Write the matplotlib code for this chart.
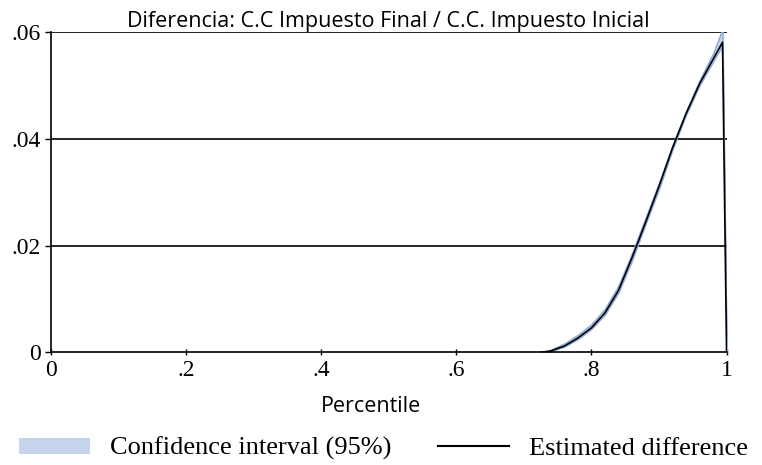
import matplotlib
matplotlib.use("Agg")
import matplotlib.pyplot as plt
from matplotlib.patches import Patch
from matplotlib.lines import Line2D

# Percentile grid and values
pctl = [0.725, 0.74, 0.76, 0.78, 0.80, 0.82, 0.84, 0.86, 0.88, 0.90,
        0.92, 0.94, 0.96, 0.98, 0.994, 1.0]
est_diff = [0.0, 0.0003, 0.0012, 0.0027, 0.0046, 0.0074, 0.0116, 0.0177, 0.0243, 0.0311,
            0.0383, 0.0447, 0.0503, 0.0549, 0.0581, 0.0]
ci_hi = [0.0, 0.0005, 0.0017, 0.0033, 0.0053, 0.0082, 0.0125, 0.0186, 0.0252, 0.0318,
         0.0388, 0.0452, 0.0510, 0.0560, 0.0606, 0.0]
ci_lo = [0.0, 0.0002, 0.0011, 0.0025, 0.0044, 0.0071, 0.0112, 0.0172, 0.0240, 0.0306,
         0.0380, 0.0445, 0.0500, 0.0545, 0.0575, 0.0]

x_ticks = [0, 0.2, 0.4, 0.6, 0.8, 1.0]
x_labels = ["0", ".2", ".4", ".6", ".8", "1"]
y_ticks = [0, 0.02, 0.04, 0.06]
y_labels = ["0", ".02", ".04", ".06"]

title = "Diferencia: C.C Impuesto Final / C.C. Impuesto Inicial"
sans = ["Open Sans", "DejaVu Sans"]
serif = ["Liberation Serif", "DejaVu Serif"]

band_face = "#c5d3eb"
band_edge = "#8ca8d8"

fig = plt.figure(figsize=(7.62, 4.65), dpi=100)
ax = fig.add_axes([0.0665, 0.242, 0.887, 0.689])

ax.fill_between(pctl, ci_lo, ci_hi, facecolor=band_face, edgecolor=band_edge, linewidth=1.0, zorder=2)
ax.plot(pctl, est_diff, color="black", linewidth=1.2, zorder=3)

ax.set_xlim(0, 1.0)
ax.set_ylim(0, 0.06)

# gridlines
for yv in y_ticks[1:]:
    ax.axhline(yv, color="black", linewidth=1.2, zorder=1)

ax.set_xticks(x_ticks)
ax.set_xticklabels(x_labels, family=serif, fontsize=17)
ax.set_yticks(y_ticks)
ax.set_yticklabels(y_labels, family=serif, fontsize=17)
ax.tick_params(axis="x", direction="inout", length=5, width=1, pad=3)
ax.tick_params(axis="y", direction="out", length=4, width=1, pad=3)

for s in ["top", "right"]:
    ax.spines[s].set_visible(False)
for s in ["left", "bottom"]:
    ax.spines[s].set_linewidth(1.2)

ax.set_title(title, family=sans, fontsize=15.5, pad=4)
ax.set_xlabel("Percentile", family=sans, fontsize=15.5)
ax.xaxis.set_label_coords(0.474, -0.135)

handles = [Patch(facecolor=band_face, edgecolor="none"),
           Line2D([0], [0], color="black", linewidth=1.5)]
fig.legend(handles, ["Confidence interval (95%)", "Estimated difference"],
           loc="center", bbox_to_anchor=(0.503, 0.035), ncol=2, frameon=False,
           prop={"family": serif, "size": 19}, handlelength=2.7, handleheight=0.57,
           handletextpad=0.76, columnspacing=1.75, borderpad=0, borderaxespad=0)

fig.savefig("out.png", dpi=100)
